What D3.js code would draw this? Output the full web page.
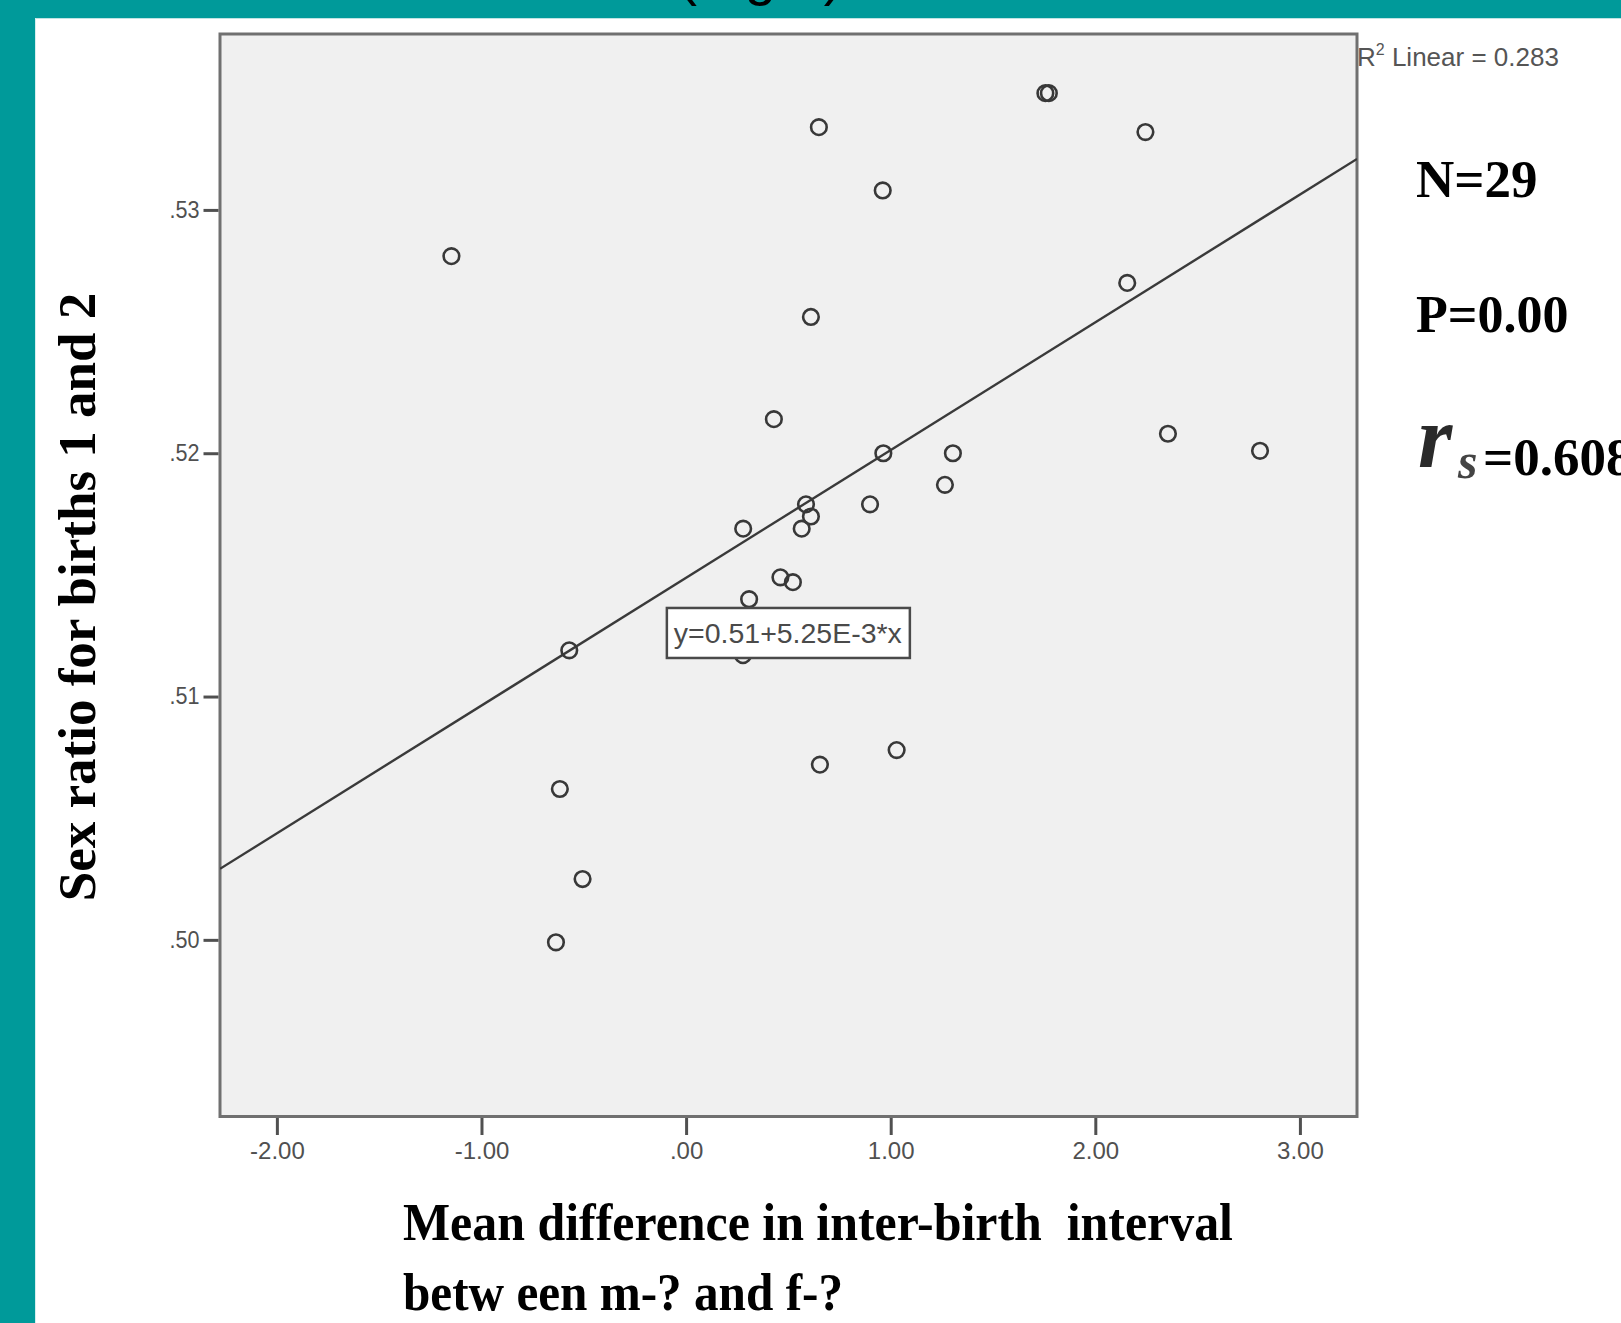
<!DOCTYPE html>
<html>
<head>
<meta charset="utf-8">
<script src="https://cdn.jsdelivr.net/npm/d3@7"></script>
<style>
  html, body { margin: 0; padding: 0; background: #ffffff; }
  svg { display: block; }
</style>
</head>
<body>
<svg id="chart" width="1621" height="1323"></svg>
<script>
// ---------------- data ----------------
const xValues = [-1.147, 0.649, 1.756, 1.773, 2.245, 0.961, 2.156, 0.610, 0.429, 0.964,
                 1.304, 2.355, 2.805, 1.265, 0.586, 0.610, 0.899, 0.279, 0.565, 0.461,
                 0.522, 0.308, -0.571, 0.278, 1.029, 0.654, -0.617, -0.506, -0.636];
const yValues = [0.5281, 0.5334, 0.5348, 0.5348, 0.5332, 0.5308, 0.5270, 0.5256, 0.5214, 0.5200,
                 0.5200, 0.5208, 0.5201, 0.5187, 0.5179, 0.5174, 0.5179, 0.5169, 0.5169, 0.5149,
                 0.5147, 0.5140, 0.5119, 0.5117, 0.5078, 0.5072, 0.5062, 0.5025, 0.4999];
const xTicks = [-2, -1, 0, 1, 2, 3];
const xTickLabels = ["-2.00", "-1.00", ".00", "1.00", "2.00", "3.00"];
const yTicks = [0.50, 0.51, 0.52, 0.53];
const yTickLabels = [".50", ".51", ".52", ".53"];
const xDomain = [-2.278, 3.279];
const yDomain = [0.49274, 0.53723];
const fitIntercept = 0.51488;
const fitSlope = 0.00525;
const fitLabel = "y=0.51+5.25E-3*x";
const fitLabelAnchor = [-0.094, 0.51364];
const r2Label = ["R", "2", " Linear = 0.283"];
const yTitle = "Sex ratio for births 1 and 2";
const xTitleLines = ["Mean difference in inter-birth  interval", "betw een m-? and f-?"];
const statN = "N=29";
const statP = "P=0.00";
const statR = ["r", "s", "=0.608"];
const figTag = "(Fig 1)";

// ---------------- layout ----------------
const svg = d3.select("#chart");
const plot = { left: 220, right: 1357, top: 34, bottom: 1116.5 };
const teal = "#009a9a";

svg.append("rect").attr("x", 0).attr("y", 0).attr("width", 1621).attr("height", 1323).attr("fill", "#ffffff");
svg.append("rect").attr("x", 0).attr("y", 0).attr("width", 1621).attr("height", 18).attr("fill", teal);
svg.append("rect").attr("x", 0).attr("y", 0).attr("width", 35).attr("height", 1323).attr("fill", teal);
svg.append("line").attr("x1", 35).attr("x2", 1621).attr("y1", 18.5).attr("y2", 18.5).attr("stroke", "#bfe3e3").attr("stroke-width", 1);
svg.append("line").attr("x1", 35.5).attr("x2", 35.5).attr("y1", 18).attr("y2", 1323).attr("stroke", "#d6eeee").attr("stroke-width", 1);

// clipped top caption (only descenders visible, as in the reference)
svg.append("text").attr("x", 678).attr("y", -6.5)
  .attr("font-family", "Liberation Sans, Arial, sans-serif").attr("font-size", 57)
  .attr("fill", "#000").text(figTag);

const x = d3.scaleLinear().domain(xDomain).range([plot.left, plot.right]);
const y = d3.scaleLinear().domain(yDomain).range([plot.bottom, plot.top]);

// plot background + frame
svg.append("rect")
  .attr("x", plot.left).attr("y", plot.top)
  .attr("width", plot.right - plot.left).attr("height", plot.bottom - plot.top)
  .attr("fill", "#f0f0f0").attr("stroke", "#707070").attr("stroke-width", 3);

const tickFont = "Liberation Sans, Arial, sans-serif";

// axes
const yAxis = d3.axisLeft(y).tickValues(yTicks).tickFormat((d, i) => yTickLabels[i]).tickSize(15).tickPadding(4);
const gy = svg.append("g").attr("transform", `translate(${plot.left - 1.5},0)`).call(yAxis);
gy.select(".domain").remove();
gy.selectAll(".tick line").attr("stroke", "#505050").attr("stroke-width", 3);
gy.selectAll(".tick text").attr("font-family", tickFont).attr("font-size", 23).attr("fill", "#505050")
  .attr("textLength", 30).attr("lengthAdjust", "spacingAndGlyphs");

const xAxis = d3.axisBottom(x).tickValues(xTicks).tickFormat((d, i) => xTickLabels[i]).tickSize(17).tickPadding(7);
const gx = svg.append("g").attr("transform", `translate(0,${plot.bottom + 1.5})`).call(xAxis);
gx.select(".domain").remove();
gx.selectAll(".tick line").attr("stroke", "#505050").attr("stroke-width", 3);
gx.selectAll(".tick text").attr("font-family", tickFont).attr("font-size", 24).attr("fill", "#505050");

// regression line
svg.append("defs").append("clipPath").attr("id", "plotClip")
  .append("rect").attr("x", plot.left).attr("y", plot.top)
  .attr("width", plot.right - plot.left).attr("height", plot.bottom - plot.top);
const fitLine = d3.line().x(d => x(d)).y(d => y(fitIntercept + fitSlope * d));
svg.append("path").datum(xDomain).attr("d", fitLine)
  .attr("clip-path", "url(#plotClip)")
  .attr("fill", "none").attr("stroke", "#3a3a3a").attr("stroke-width", 2.4);

// points
const pts = xValues.map((v, i) => ({ x: v, y: yValues[i] }));
svg.append("g").selectAll("circle").data(pts).join("circle")
  .attr("cx", d => x(d.x)).attr("cy", d => y(d.y)).attr("r", 7.8)
  .attr("fill", "none").attr("stroke", "#383838").attr("stroke-width", 2.6);

// equation label box
const bx = x(fitLabelAnchor[0]), by = y(fitLabelAnchor[1]);
svg.append("rect").attr("x", bx).attr("y", by).attr("width", 243).attr("height", 50)
  .attr("fill", "#ffffff").attr("stroke", "#4a4a4a").attr("stroke-width", 2.5);
svg.append("text").attr("x", bx + 7).attr("y", by + 35)
  .attr("font-family", tickFont).attr("font-size", 27).attr("fill", "#4a4a4a")
  .attr("textLength", 228).attr("lengthAdjust", "spacingAndGlyphs").text(fitLabel);

// R² label
const r2 = svg.append("text").attr("x", plot.right).attr("y", 66)
  .attr("font-family", tickFont).attr("font-size", 26).attr("fill", "#555");
r2.append("tspan").text(r2Label[0]);
r2.append("tspan").attr("font-size", 16).attr("dy", -11).text(r2Label[1]);
r2.append("tspan").attr("dy", 11).text(r2Label[2]);

// axis titles
const serif = "Liberation Serif, Times New Roman, serif";
svg.append("text").attr("transform", "translate(95,597) rotate(-90)")
  .attr("text-anchor", "middle").attr("font-family", serif).attr("font-weight", "bold")
  .attr("font-size", 53).attr("fill", "#000").text(yTitle);

svg.append("text").attr("x", 403).attr("y", 1240)
  .style("white-space", "pre")
  .attr("font-family", serif).attr("font-weight", "bold").attr("font-size", 52).attr("fill", "#000")
  .attr("textLength", 830).attr("lengthAdjust", "spacingAndGlyphs")
  .text(xTitleLines[0]);
svg.append("text").attr("x", 403).attr("y", 1310)
  .style("white-space", "pre")
  .attr("font-family", serif).attr("font-weight", "bold").attr("font-size", 52).attr("fill", "#000")
  .attr("textLength", 440).attr("lengthAdjust", "spacingAndGlyphs")
  .text(xTitleLines[1]);

// statistics annotations
svg.append("text").attr("x", 1416).attr("y", 197)
  .attr("font-family", serif).attr("font-weight", "bold").attr("font-size", 53).attr("fill", "#000").text(statN);
svg.append("text").attr("x", 1416).attr("y", 331.5)
  .attr("font-family", serif).attr("font-weight", "bold").attr("font-size", 52).attr("fill", "#000").text(statP);
svg.append("text").attr("x", 1418).attr("y", 467)
  .attr("font-family", serif).attr("font-style", "italic").attr("font-weight", "bold")
  .attr("font-size", 88).attr("fill", "#2a2a2a").text(statR[0]);
svg.append("text").attr("x", 1458).attr("y", 478)
  .attr("font-family", serif).attr("font-style", "italic").attr("font-weight", "bold")
  .attr("font-size", 50).attr("fill", "#444").text(statR[1]);
svg.append("text").attr("x", 1483).attr("y", 475)
  .attr("font-family", serif).attr("font-weight", "bold").attr("font-size", 53).attr("fill", "#000").text(statR[2]);
</script>
</body>
</html>
